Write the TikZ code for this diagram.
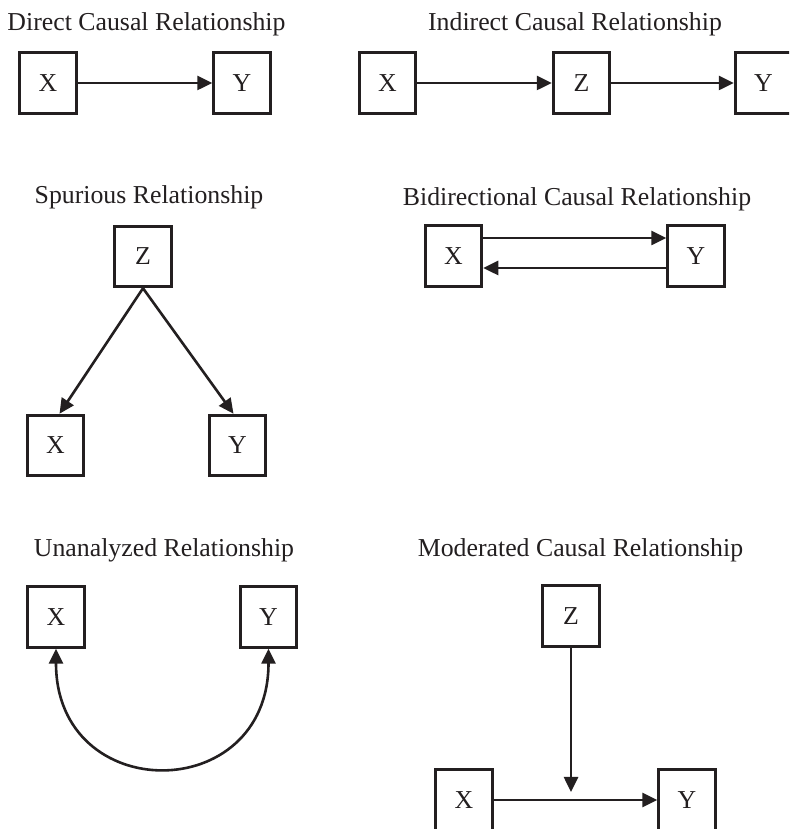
\documentclass[tikz,border=0pt]{standalone}
\usepackage{fontspec}
\setmainfont{Liberation Serif}
\usetikzlibrary{arrows.meta,positioning}
\definecolor{ink}{HTML}{231F20}
\tikzstyle{var} = [rectangle, minimum width=56.5pt, minimum height=60.5pt, text centered, draw=ink, text=ink, line width=3pt, font=\fontsize{25.8pt}{30pt}\selectfont]
\tikzstyle{title} = [anchor=base, inner sep=0pt, text=ink, font=\fontsize{25.8pt}{30pt}\selectfont]
\tikzstyle{arrow} = [draw=ink, line width=2.6pt, -{Triangle[length=15pt,width=14pt]}]
\tikzstyle{twoway} = [draw=ink, line width=2.6pt, {Triangle[length=15pt,width=14pt]}-{Triangle[length=15pt,width=14pt]}]

\begin{document}
\begin{tikzpicture}[x=1pt, y=1pt, node distance=194pt]
\clip (0,0) rectangle (789,829);
\fill[white] (0,0) rectangle (789,829);

\node (t1) [title] at (146.5,798) {Direct Causal Relationship};
\node (t2) [title] at (575,798) {Indirect Causal Relationship};
\node (t3) [title] at (149,625) {Spurious Relationship};
\node (t4) [title] at (577,623) {Bidirectional Causal Relationship};
\node (t5) [title] at (164,272) {Unanalyzed Relationship};
\node (t6) [title] at (580.5,272) {Moderated Causal Relationship};

\node (dx) [var] at (48,746) {X};
\node (dy) [var, right of=dx] {Y};
\node (ix) [var] at (387.5,746) {X};
\node (iz) [var, right of=ix] {Z};
\node (iy) [var, right of=iz, xshift=-12pt] {Y};
\node (sz) [var] at (143,572.5) {Z};
\node (sx) [var] at (55.5,383.5) {X};
\node (sy) [var, right of=sx, xshift=-12pt] {Y};
\node (bx) [var] at (453.5,573) {X};
\node (by) [var, right of=bx, xshift=48.5pt] {Y};
\node (ux) [var] at (56,212) {X};
\node (uy) [var, right of=ux, xshift=18.5pt] {Y};
\node (mz) [var] at (571,213) {Z};
\node (mx) [var] at (464,29) {X};
\node (my) [var, right of=mx, xshift=29pt] {Y};
\coordinate (mmid) at (571,37);

\draw [arrow] (dx) -- (dy);
\draw [arrow] (ix) -- (iz);
\draw [arrow] (iz) -- (iy);
\draw [arrow] (sz.south) -- ([xshift=4pt]sx.north);
\draw [arrow] (sz.south) -- ([xshift=-4pt]sy.north);
\draw [arrow] ([yshift=18pt]bx.east) -- ([yshift=18pt]by.west);
\draw [arrow] ([yshift=-12pt]by.west) -- ([yshift=-12pt]bx.east);
\draw [twoway] (ux.south) to[out=-90, in=-90, looseness=1.9] (uy.south);
\draw [arrow] (mz.south) -- (mmid);
\draw [arrow] (mx) -- (my);

\end{tikzpicture}
\end{document}
